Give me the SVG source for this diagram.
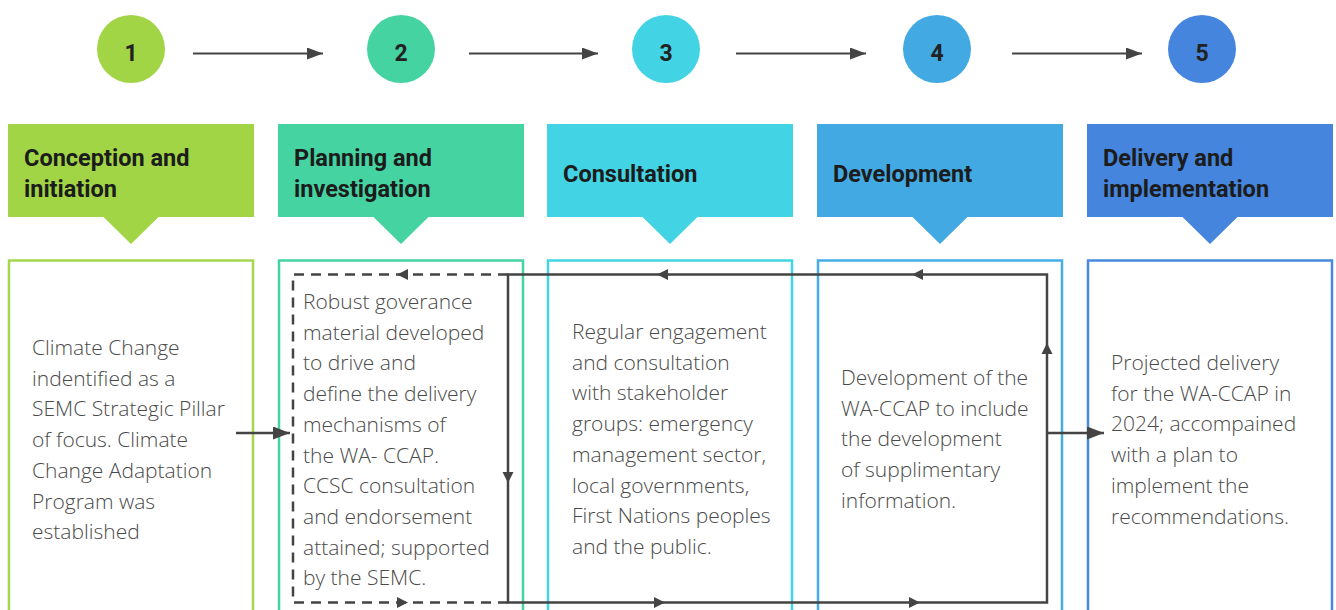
<svg xmlns="http://www.w3.org/2000/svg" xmlns:xlink="http://www.w3.org/1999/xlink" width="1336" height="610" viewBox="0 0 1336 610">
  <style>
    .num { font-family: Roboto, "Liberation Sans", sans-serif; font-weight: 700; font-size: 23px; fill: #222; text-anchor: middle; }
    .head { font-family: Roboto, "Liberation Sans", sans-serif; font-weight: 700; font-size: 23.5px; fill: #1c1c1c; }
    .body { font-family: "Open Sans", "Liberation Sans", sans-serif; font-weight: 300; font-size: 21px; fill: #4a4a4a; }
    .frame { fill: none; stroke-width: 2.5; }
    .line { fill: none; stroke: #444; stroke-width: 2.5; }
    .dash { fill: none; stroke: #444; stroke-width: 2.5; stroke-dasharray: 10 7; }
    .step { fill: none; stroke: #444; stroke-width: 2; }
    .ah { fill: #444; }
  </style>
  <defs>
    <!-- small arrowhead, tip at origin, pointing right -->
    <path id="ah" d="M0,0 L-11,-5.5 L-11,5.5 Z"/>
    <marker id="big" viewBox="0 0 16 12" refX="16" refY="6" markerWidth="16" markerHeight="12" markerUnits="userSpaceOnUse" orient="auto">
      <path d="M0,0 L16,6 L0,12 Z" fill="#444"/>
    </marker>
    <marker id="mid" viewBox="0 0 17 13" refX="17" refY="6.5" markerWidth="17" markerHeight="13" markerUnits="userSpaceOnUse" orient="auto">
      <path d="M0,0 L17,6.5 L0,13 Z" fill="#444"/>
    </marker>
  </defs>

  <rect width="1336" height="610" fill="#fff"/>

  <!-- step badges -->
  <g id="badge-1"><circle cx="131" cy="49" r="34" fill="#a1d545"/><text class="num" x="131" y="61">1</text></g>
  <g id="badge-2"><circle cx="401" cy="49" r="34" fill="#45d3a2"/><text class="num" x="401" y="61">2</text></g>
  <g id="badge-3"><circle cx="666" cy="49" r="34" fill="#42d4e4"/><text class="num" x="666" y="61">3</text></g>
  <g id="badge-4"><circle cx="937" cy="49" r="34" fill="#42a9e3"/><text class="num" x="937" y="61">4</text></g>
  <g id="badge-5"><circle cx="1202" cy="49" r="34" fill="#4585dd"/><text class="num" x="1202" y="61">5</text></g>

  <!-- stage 1 -->
  <g id="stage-1">
    <path d="M8,124 H254 V217 H158.5 L131,244 L103.5,217 H8 Z" fill="#a1d545"/>
    <text class="head" x="24" y="166">Conception and</text>
    <text class="head" x="24" y="197">initiation</text>
    <rect class="frame" x="9" y="260.5" width="244" height="360" stroke="#a5d64f"/>
    <text class="body">
      <tspan x="32" y="355">Climate Change</tspan>
      <tspan x="32" y="385.7">indentified as a</tspan>
      <tspan x="32" y="416.4">SEMC Strategic Pillar</tspan>
      <tspan x="32" y="447.1">of focus. Climate</tspan>
      <tspan x="32" y="477.8">Change Adaptation</tspan>
      <tspan x="32" y="508.5">Program was</tspan>
      <tspan x="32" y="539.2">established</tspan>
    </text>
  </g>

  <!-- stage 2 -->
  <g id="stage-2">
    <path d="M278,124 H524 V217 H428.5 L401,244 L373.5,217 H278 Z" fill="#45d3a2"/>
    <text class="head" x="294" y="166">Planning and</text>
    <text class="head" x="294" y="197">investigation</text>
    <rect class="frame" x="279" y="260.5" width="244" height="360" stroke="#45d3a2"/>
    <text class="body">
      <tspan x="303" y="309">Robust goverance</tspan>
      <tspan x="303" y="339.7">material developed</tspan>
      <tspan x="303" y="370.4">to drive and</tspan>
      <tspan x="303" y="401.1">define the delivery</tspan>
      <tspan x="303" y="431.8">mechanisms of</tspan>
      <tspan x="303" y="462.5">the WA- CCAP.</tspan>
      <tspan x="303" y="493.2">CCSC consultation</tspan>
      <tspan x="303" y="523.9">and endorsement</tspan>
      <tspan x="303" y="554.6">attained; supported</tspan>
      <tspan x="303" y="585.3">by the SEMC.</tspan>
    </text>
  </g>

  <!-- stage 3 -->
  <g id="stage-3">
    <path d="M547,124 H793 V217 H697.5 L670,244 L642.5,217 H547 Z" fill="#42d4e4"/>
    <text class="head" x="563" y="182">Consultation</text>
    <rect class="frame" x="548" y="260.5" width="244" height="360" stroke="#42d4e4"/>
    <text class="body">
      <tspan x="572" y="339">Regular engagement</tspan>
      <tspan x="572" y="369.7">and consultation</tspan>
      <tspan x="572" y="400.4">with stakeholder</tspan>
      <tspan x="572" y="431.1">groups: emergency</tspan>
      <tspan x="572" y="461.8">management sector,</tspan>
      <tspan x="572" y="492.5">local governments,</tspan>
      <tspan x="572" y="523.2">First Nations peoples</tspan>
      <tspan x="572" y="553.9">and the public.</tspan>
    </text>
  </g>

  <!-- stage 4 -->
  <g id="stage-4">
    <path d="M817,124 H1063 V217 H967.5 L940,244 L912.5,217 H817 Z" fill="#42a9e3"/>
    <text class="head" x="833" y="182">Development</text>
    <rect class="frame" x="818" y="260.5" width="244" height="360" stroke="#45ade6"/>
    <text class="body">
      <tspan x="841" y="385">Development of the</tspan>
      <tspan x="841" y="415.7">WA-CCAP to include</tspan>
      <tspan x="841" y="446.4">the development</tspan>
      <tspan x="841" y="477.1">of supplimentary</tspan>
      <tspan x="841" y="507.8">information.</tspan>
    </text>
  </g>

  <!-- stage 5 -->
  <g id="stage-5">
    <path d="M1087,124 H1333 V217 H1237.5 L1210,244 L1182.5,217 H1087 Z" fill="#4585dd"/>
    <text class="head" x="1103" y="166">Delivery and</text>
    <text class="head" x="1103" y="197">implementation</text>
    <rect class="frame" x="1088" y="260.5" width="244" height="360" stroke="#4889de"/>
    <text class="body">
      <tspan x="1111" y="370">Projected delivery</tspan>
      <tspan x="1111" y="400.7">for the WA-CCAP in</tspan>
      <tspan x="1111" y="431.4">2024; accompained</tspan>
      <tspan x="1111" y="462.1">with a plan to</tspan>
      <tspan x="1111" y="492.8">implement the</tspan>
      <tspan x="1111" y="523.5">recommendations.</tspan>
    </text>
  </g>

  <!-- connectors -->
  <g id="connectors">
    <!-- sequence arrows between badges -->
    <line class="step" x1="193" y1="53.5" x2="323" y2="53.5" marker-end="url(#big)"/>
    <line class="step" x1="469" y1="53.5" x2="598" y2="53.5" marker-end="url(#big)"/>
    <line class="step" x1="736" y1="53.5" x2="866" y2="53.5" marker-end="url(#big)"/>
    <line class="step" x1="1012" y1="53.5" x2="1142" y2="53.5" marker-end="url(#big)"/>

    <!-- stage 1 into the governance loop -->
    <line class="line" x1="236" y1="433" x2="290" y2="433" marker-end="url(#mid)"/>

    <!-- dashed governance loop -->
    <path class="dash" d="M508,274.5 H293 V602.5 H508"/>
    <use xlink:href="#ah" class="ah" transform="translate(397,274.5) rotate(180)"/>
    <use xlink:href="#ah" class="ah" transform="translate(408,602.5)"/>

    <!-- solid iteration loop -->
    <path class="line" d="M508,274.5 H1047 V602.5 H508 Z"/>
    <use xlink:href="#ah" class="ah" transform="translate(508,483) rotate(90)"/>
    <use xlink:href="#ah" class="ah" transform="translate(657,274.5) rotate(180)"/>
    <use xlink:href="#ah" class="ah" transform="translate(912,274.5) rotate(180)"/>
    <use xlink:href="#ah" class="ah" transform="translate(665,602.5)"/>
    <use xlink:href="#ah" class="ah" transform="translate(920,602.5)"/>
    <use xlink:href="#ah" class="ah" transform="translate(1047,343) rotate(-90)"/>

    <!-- loop out to delivery -->
    <line class="line" x1="1047" y1="433" x2="1104" y2="433" marker-end="url(#mid)"/>
  </g>
</svg>
